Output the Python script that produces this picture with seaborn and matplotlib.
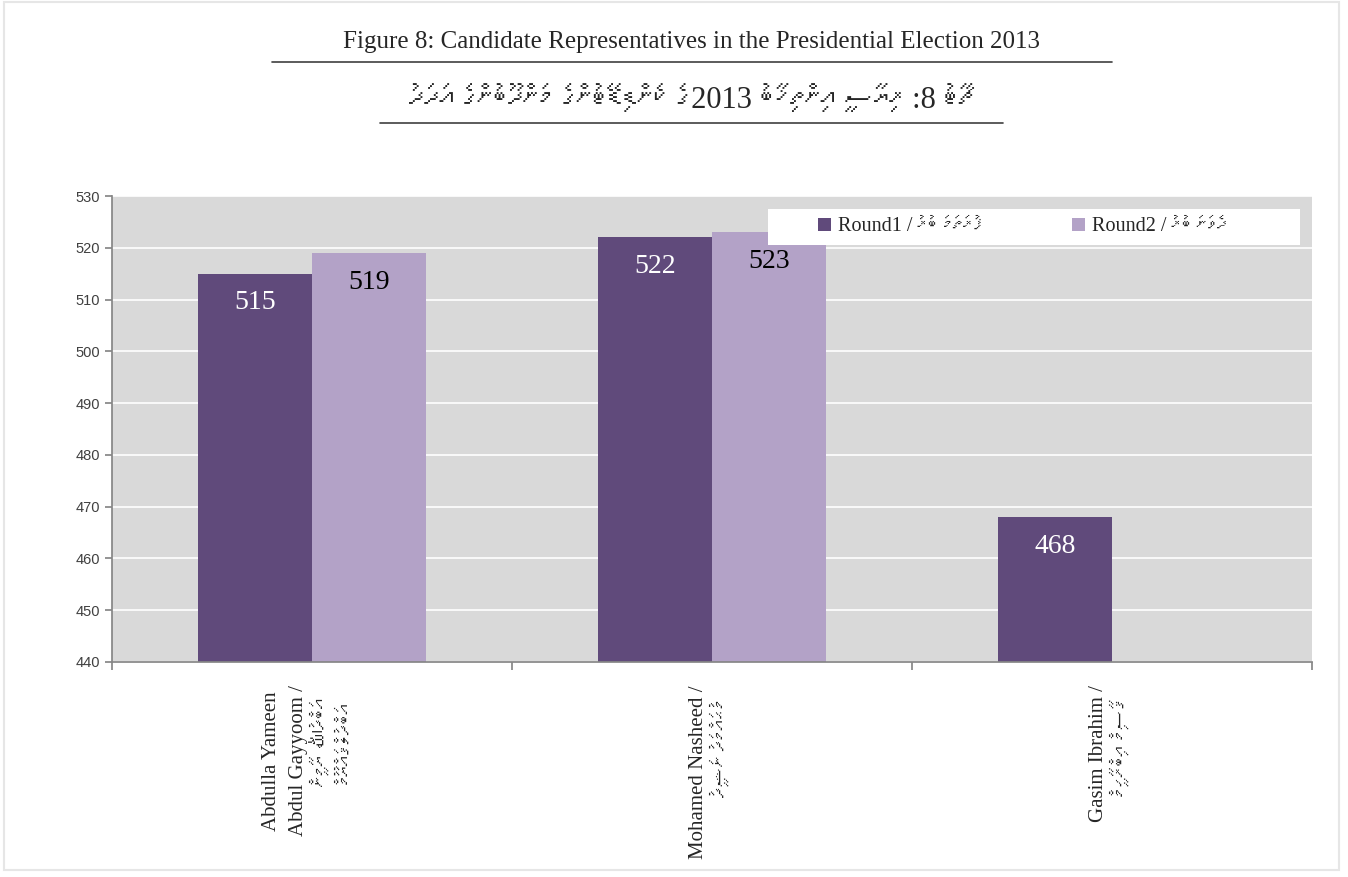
import numpy as np
import pandas as pd
import matplotlib
matplotlib.use("Agg")
import matplotlib.pyplot as plt
from matplotlib import font_manager, ft2font
import seaborn as sns
import unicodedata

# ----------------------------
# Data
# ----------------------------
names_en = ["Abdulla Yameen\nAbdul Gayyoom /", "Mohamed Nasheed /", "Gasim Ibrahim /"]
names_dv = ["އަބްދުﷲ ޔާމީން\nއަބްދުލްޤައްޔޫމް", "މުޙައްމަދު ނަޝީދު", "ޤާސިމް އިބްރާހީމް"]
round1 = [515, 522, 468]
round2 = [519, 523, np.nan]
round_names = ["Round1 / ފުރަތަމަ ބުރު", "Round2 / ދެވަނަ ބުރު"]
yticks = list(range(440, 531, 10))

title_en = "Figure 8: Candidate Representatives in the Presidential Election 2013"
title_dv = "ޗާޓު 8: ރިޔާސީ އިންތިޚާބު 2013ގެ ކެންޑިޑޭޓުންގެ މަންދޫބުންގެ އަދަދު"


# find a font that has Thaana glyphs, if any
def find_thaana_font():
    for f in font_manager.fontManager.ttflist:
        try:
            cmap = ft2font.FT2Font(f.fname).get_charmap()
        except Exception:
            continue
        if 0x0780 in cmap and 0x07A6 in cmap:
            return f.name
    return None


def rtl(line):
    # matplotlib lays out left to right; reorder Thaana clusters for display
    if not any("\u0780" <= c <= "\u07BF" for c in line):
        return line
    if " / " in line:
        a, b = line.split(" / ", 1)
        return a + " / " + rtl(b)
    clusters = []
    for c in line:
        if clusters and unicodedata.combining(c):
            clusters[-1] += c
        else:
            clusters.append(c)
    # keep digit runs in order
    out, run = [], ""
    for cl in clusters:
        if cl.isdigit():
            run += cl
        else:
            if run:
                out.append(run)
                run = ""
            out.append(cl)
    if run:
        out.append(run)
    return "".join(out[::-1])


def disp(s):
    return "\n".join(rtl(l) for l in s.split("\n"))


thaana = find_thaana_font()
serif = ["Liberation Serif"] + ([thaana] if thaana else []) + ["DejaVu Sans"]

sns.set_theme(style="white")
plt.rcParams["font.family"] = serif

dark = "#604A7B"
light = "#B3A2C7"

df = pd.DataFrame({
    "candidate": names_en * 2,
    "round": [disp(round_names[0])] * 3 + [disp(round_names[1])] * 3,
    "value": round1 + round2,
})

fig = plt.figure(figsize=(13.48, 8.77), dpi=100)
ax = fig.add_axes([0.0831, 0.2452, 0.8902, 0.5313])
ax.set_facecolor("#D9D9D9")

sns.barplot(data=df, x="candidate", y="value", hue="round",
            palette=[dark, light], width=0.57, saturation=1,
            ax=ax, zorder=2, linewidth=0)

ax.set_ylim(440, 530)
ax.set_yticks(yticks)
ax.set_yticklabels([str(t) for t in yticks], fontfamily="Liberation Sans",
                   fontsize=10.5, color="#404040")
ax.grid(axis="y", color="white", linewidth=1.2, zorder=0)
ax.set_axisbelow(True)
ax.set_xlabel("")
ax.set_ylabel("")

# value labels
for container, col in zip(ax.containers, ["white", "black"]):
    for bar in container:
        h = bar.get_height()
        if np.isnan(h):
            continue
        ax.annotate(f"{h:.0f}", (bar.get_x() + bar.get_width() / 2, h),
                    xytext=(0, -21), textcoords="offset points",
                    ha="center", va="center", fontsize=20, color=col)

# x axis
ax.set_xticks([-0.5, 0.5, 1.5, 2.5])
ax.set_xticklabels([])
ax.set_xlim(-0.5, 2.5)
xt = ax.get_xaxis_transform()
for i in range(len(names_en)):
    ax.annotate(names_en[i], (i, 0), xycoords=xt, xytext=(-3, -17),
                textcoords="offset points", rotation=90, ha="right", va="top",
                multialignment="center", fontsize=15, linespacing=1.55)
    ax.annotate(disp(names_dv[i]), (i, 0), xycoords=xt, xytext=(0, -26),
                textcoords="offset points", rotation=90, ha="left", va="top",
                multialignment="center", fontsize=15, linespacing=1.3)
ax.tick_params(axis="x", direction="out", length=6, color="#868686", bottom=True)
ax.tick_params(axis="y", direction="out", length=5, color="#868686", left=True)

for s in ["top", "right"]:
    ax.spines[s].set_visible(False)
for s in ["left", "bottom"]:
    ax.spines[s].set_color("#868686")

# legend on a wide white box
ax.add_patch(plt.Rectangle((0.547, 0.895), 0.443, 0.077, transform=ax.transAxes,
                           facecolor="white", edgecolor="none", zorder=3))
ax.legend(loc="center right", bbox_to_anchor=(0.941, 0.9335), ncol=2,
          frameon=False, fontsize=14.5,
          handlelength=0.65, handleheight=0.65, handletextpad=0.35,
          columnspacing=4.4, borderpad=0.2)

# titles
fig.text(0.513, 1 - 42 / 877, title_en, ha="center", va="center", fontsize=18)
fig.add_artist(plt.Line2D([272 / 1348, 1112 / 1348], [1 - 62 / 877] * 2,
                          color="#404040", linewidth=1.2))
fig.text(0.513, 1 - 100 / 877, disp(title_dv), ha="center", va="center",
         fontsize=22)
fig.add_artist(plt.Line2D([380 / 1348, 1003 / 1348], [1 - 123 / 877] * 2,
                          color="#404040", linewidth=1.2))

# faint outer frame
fig.add_artist(plt.Rectangle((0.003, 0.008), 0.99, 0.99, fill=False,
                             edgecolor="#E6E6E6", linewidth=1.5,
                             transform=fig.transFigure))

fig.savefig("out.png", dpi=100)
